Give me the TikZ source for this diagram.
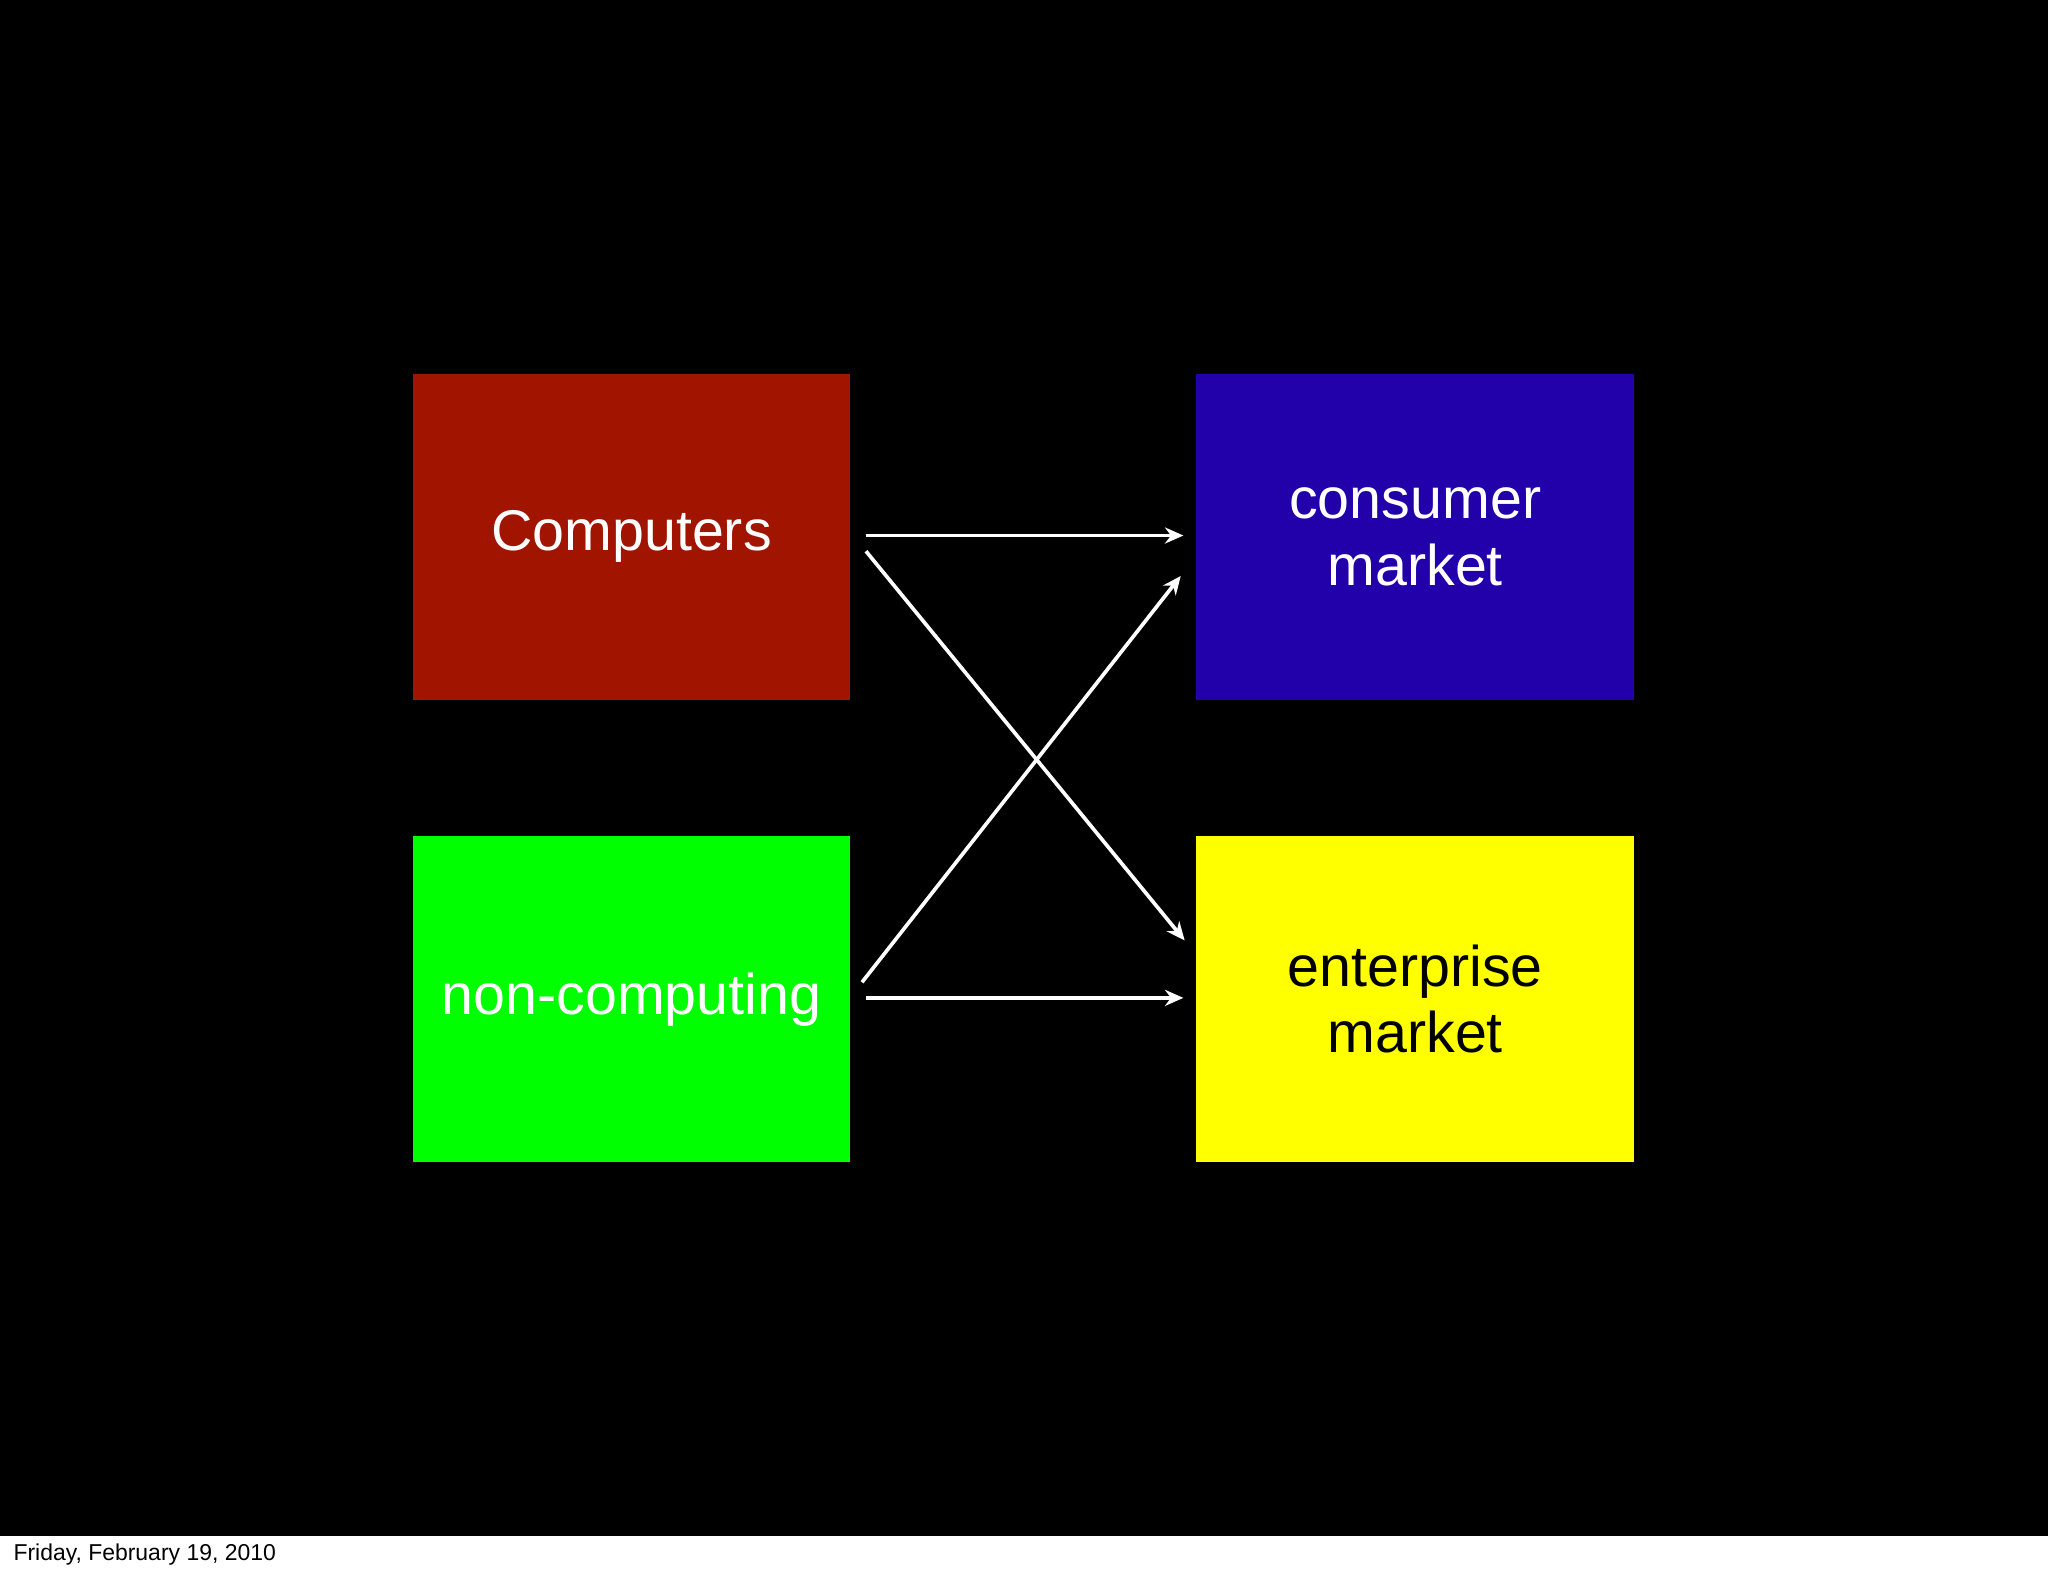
\documentclass[tikz,border=0pt]{standalone}
\usepackage{fontspec}
\setmainfont{Liberation Sans}
\usetikzlibrary{arrows.meta}
\definecolor{cred}{HTML}{A01400}
\definecolor{cblue}{HTML}{2200AA}
\definecolor{cgreen}{HTML}{00FF00}
\definecolor{cyel}{HTML}{FFFF00}
\begin{document}
\begin{tikzpicture}[x=0.02cm,y=-0.02cm,
  box/.style={minimum width=335*0.02cm,minimum height=250*0.02cm,inner sep=0,align=center,font=\fontsize{25}{29}\selectfont},
  arr/.style={white,line width=1.6pt,-{Stealth[length=8pt,width=7pt]}}]
\useasboundingbox (0,0) rectangle (1568,1206);
\fill[white] (0,0) rectangle (1568,1206);
\fill[black] (0,0) rectangle (1568,1176);
\node[box,fill=cred,text=white] (comp) at (483.5,411) {Computers};
\node[box,fill=cblue,text=white] (cons) at (1083.5,411) {consumer\\market};
\node[box,fill=cgreen,text=white] (non) at (483.5,765) {non-computing};
\node[box,fill=cyel,text=black] (ent) at (1083.5,765) {enterprise\\market};
\coordinate (a1) at (663,410); \coordinate (b1) at (906,410);
\coordinate (a2) at (663,422); \coordinate (b2) at (907,720);
\coordinate (a3) at (660,752); \coordinate (b3) at (904,441);
\coordinate (a4) at (663,764); \coordinate (b4) at (906,764);
\draw[arr] (a1) -- (b1);
\draw[arr] (a2) -- (b2);
\draw[arr] (a3) -- (b3);
\draw[arr] (a4) -- (b4);
\node[anchor=west,font=\fontsize{10}{12}\selectfont,inner sep=0] (foot) at (10,1190) {Friday, February 19, 2010};
\end{tikzpicture}
\end{document}
